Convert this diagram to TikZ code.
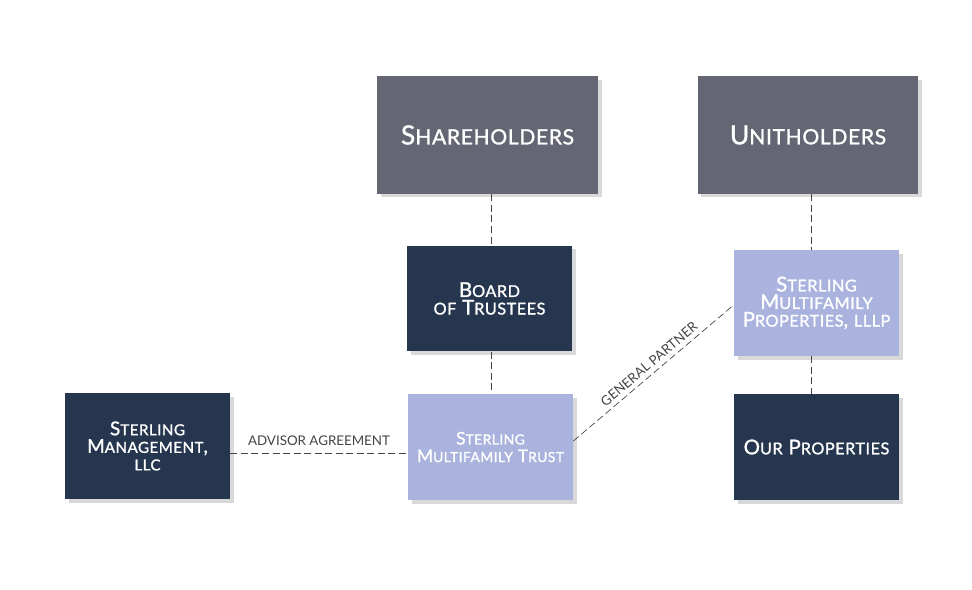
\documentclass[tikz,border=0pt]{standalone}
\usepackage{fontspec}
\setmainfont{Lato}
\newfontfamily\boxfont{Lato}[LetterSpace=3, RawFeature={embolden=1.2}]
\usepackage{graphicx}
\usepackage{tikz}
\usetikzlibrary{
    shadows,
    calc,
    positioning
}
\definecolor{slate}{HTML}{646673}
\definecolor{navy}{HTML}{27364F}
\definecolor{lavender}{HTML}{A9B3DD}
\definecolor{linegray}{HTML}{444444}
\newcommand{\lc}[1]{\scalebox{0.8}{#1}}

\begin{document}
\begin{tikzpicture}[x=0.02cm, y=-0.02cm,
    box/.style={rectangle, minimum width=3.3cm, minimum height=2.12cm, text=white, align=center,
        inner sep=0pt, font=\boxfont\fontsize{11.6}{12}\selectfont,
        drop shadow={opacity=0.3, shadow xshift=2pt, shadow yshift=-2pt}},
    topbox/.style={box, fill=slate, minimum width=4.42cm, minimum height=2.36cm, font=\boxfont\fontsize{15}{17}\selectfont},
    darkbox/.style={box, fill=navy},
    lightbox/.style={box, fill=lavender},
    link/.style={draw=linegray, thin, dash pattern=on 4pt off 2pt},
    linklabel/.style={text=linegray, font=\fontsize{7.6}{9}\selectfont, inner sep=1pt}
]
    \useasboundingbox (0, 0) rectangle (972, 590);
    \node[topbox] (share) at (487.5, 135) {S\lc{HAREHOLDERS}};
    \node[topbox] (unit) at (808, 135) {U\lc{NITHOLDERS}};
    \node[darkbox] (board) at (489.5, 298.5) {B\lc{OARD}\\[-2pt] \lc{OF} T\lc{RUSTEES}};
    \node[lightbox] (lllp) at (816.5, 303) {S\lc{TERLING}\\[-2pt] M\lc{ULTIFAMILY}\\[-2pt] P\lc{ROPERTIES}, \lc{LLLP}};
    \node[darkbox, font=\boxfont\fontsize{10.8}{12}\selectfont] (mgmt) at (147.5, 446) {S\lc{TERLING}\\[-2pt] M\lc{ANAGEMENT},\\[-2pt] \lc{LLC}};
    \node[lightbox, font=\boxfont\fontsize{9.9}{11}\selectfont] (trust) at (490.5, 447) {S\lc{TERLING}\\[-1pt] M\lc{ULTIFAMILY} T\lc{RUST}};
    \node[darkbox] (props) at (816.5, 447) {O\lc{UR} P\lc{ROPERTIES}};

    \draw[link] (share.south -| 491, 0) -- (board.north -| 491, 0);
    \draw[link] (board.south -| 491, 0) -- (trust.north -| 491, 0);
    \draw[link] (unit.south -| 811, 0) -- (lllp.north -| 811, 0);
    \draw[link] (lllp.south -| 811, 0) -- (props.north -| 811, 0);
    \draw[link] (mgmt.east |- 0, 453) -- node[linklabel, above=3pt] {ADVISOR AGREEMENT} (trust.west |- 0, 453);
    \draw[link] (trust.east |- 0, 441) -- node[linklabel, rotate=40.2, above=2pt] {GENERAL PARTNER} (lllp.west |- 0, 305);
\end{tikzpicture}
\end{document}
